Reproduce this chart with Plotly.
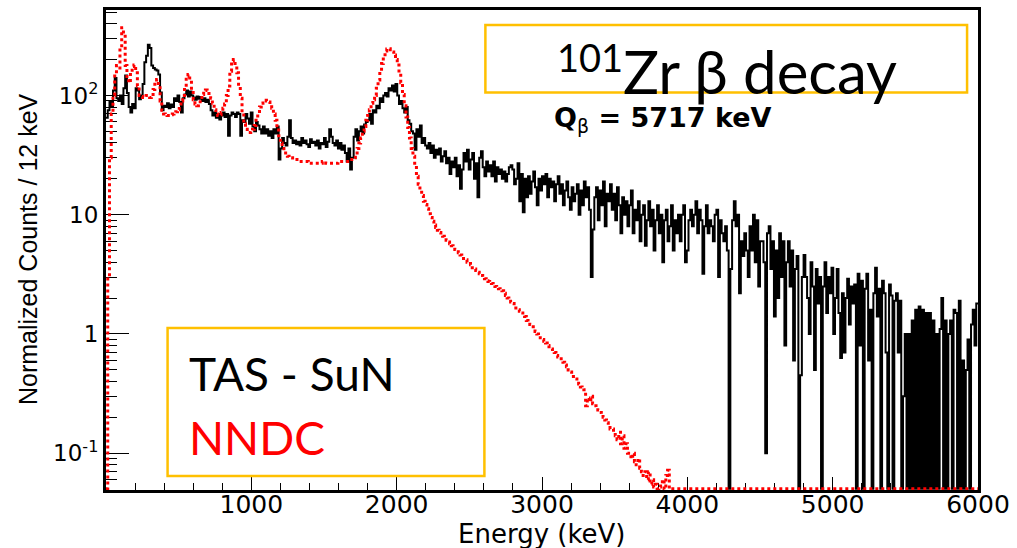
import plotly.graph_objects as go

# ---------------- data (counts per 12 keV bin, 0..6000 keV) ----------------
bin_width_kev = 12
energy_min_kev = 0

tas_sun = [
    65, 75, 90, 80, 110, 140, 95, 90, 100, 85,            # 0-120
    115, 147, 105, 80, 72, 85, 78, 115, 110, 93,          # 120-240
    100, 125, 190, 215, 266, 250, 178, 170, 165, 162,     # 240-360
    150, 106, 75, 82, 80, 86, 78, 84, 80, 95,             # 360-480
    90, 100, 88, 72, 95, 102, 110, 98, 108, 100,          # 480-600
    96, 92, 98, 94, 97, 90, 95, 88, 92, 85,               # 600-720
    75, 68, 72, 65, 70, 63, 68, 72, 66, 70,               # 720-840
    46, 68, 72, 70, 66, 72, 70, 46, 62, 60,               # 840-960
    70, 64, 58, 72, 55, 50, 60, 56, 52, 48,               # 960-1080
    55, 48, 52, 46, 50, 44, 52, 48, 55, 29,               # 1080-1200
    36, 44, 40, 38, 45, 62, 44, 40, 42, 39,               # 1200-1320
    41, 38, 44, 40, 42, 39, 37, 43, 40, 41,               # 1320-1440
    38, 42, 36, 40, 39, 44, 37, 41, 52, 45,               # 1440-1560
    40, 38, 42, 36, 40, 35, 38, 33, 28, 36,               # 1560-1680
    24, 30, 45, 52, 42, 50, 55, 48, 57, 60,               # 1680-1800
    62, 70, 58, 75, 72, 82, 78, 95, 88, 100,              # 1800-1920
    105, 98, 115, 110, 121, 108, 125, 100, 85, 90,        # 1920-2040
    78, 72, 80, 62, 58, 50, 48, 35, 52, 45,               # 2040-2160
    56, 40, 44, 38, 36, 40, 33, 38, 30, 35,               # 2160-2280
    32, 36, 28, 31, 34, 27, 30, 22, 28, 25,               # 2280-2400
    30, 21, 26, 16.5, 24, 33, 28, 35, 24, 29,             # 2400-2520
    33, 20, 27, 14, 30, 34, 25, 21, 28, 23,               # 2520-2640
    26, 21, 28, 19, 25, 22, 24, 20, 23, 19,               # 2640-2760
    22, 25, 26, 24, 18, 20, 27, 13, 22, 10.5,             # 2760-2880
    20, 14, 21, 15, 19, 23, 17, 12, 20, 16,               # 2880-3000
    21, 18, 22, 14, 20, 17, 19, 13, 18, 21,               # 3000-3120
    15, 18, 12, 16, 19, 14, 11, 17, 13, 15,               # 3120-3240
    18, 10, 16, 12, 19, 14, 17, 11, 3.0, 7.5,             # 3240-3360
    14, 17, 9, 16, 12, 19, 8, 15, 13, 18,                 # 3360-3480
    11, 15, 9, 17, 12, 7, 14, 10, 13, 8,                  # 3480-3600
    12, 16, 7, 11, 9, 13, 6, 10, 12, 5.5,                 # 3600-3720
    9, 13, 8, 11, 5, 9, 12, 7, 10, 4,                     # 3720-3840
    9, 11, 6, 8, 12, 5, 9, 7, 10, 6,                      # 3840-3960
    10, 12, 4, 5, 9, 11, 8, 10, 13, 7,                    # 3960-4080
    11, 9, 3.2, 8, 12, 7, 9, 8, 6, 10,                    # 4080-4200
    11, 3.0, 9, 7, 6, 8, 5, 0, 3.5, 9,                    # 4200-4320
    13, 8, 10, 2.2, 6, 4.5, 7, 5, 3.0, 8,                 # 4320-4440
    5, 10, 4, 9, 2.5, 6, 6, 4, 0.1, 7,                    # 4440-4560
    8, 3.5, 6, 1.4, 5, 2.0, 7, 3, 6, 0.8,                 # 4560-4680
    4, 6, 2.5, 5, 0.6, 3.5, 4.5, 0, 0.45, 3,              # 4680-4800
    4.6, 3, 2, 1.0, 4, 2.5, 0.5, 3.5, 1.8, 3,             # 4800-4920
    0, 2.5, 4, 1.5, 3, 2.2, 3.6, 1.0, 2, 3.5,             # 4920-5040
    1.5, 0.63, 2.2, 0.7, 2.0, 2.9, 1.2, 2.5, 1.8, 2.6,    # 5040-5160
    0, 3.2, 0.8, 2.8, 0, 2.4, 3.2, 0.6, 1.6, 0,           # 5160-5280
    2.2, 3.6, 1.4, 2.4, 0, 2.8, 2.2, 0.7, 0, 2.6,         # 5280-5400
    2.1, 0, 1.9, 2.2, 0.7, 1.9, 0, 0.3, 1.0, 0,           # 5400-5520
    1.0, 0, 1.3, 0, 1.6, 0, 1.7, 0, 1.6, 0,               # 5520-5640
    1.5, 0, 1.5, 0, 1.3, 0, 1.0, 0, 1.1, 2.0,             # 5640-5760
    0, 1.3, 0, 1.0, 1.3, 0, 1.6, 1.5, 0, 1.9,             # 5760-5880
    0, 0.6, 0, 0.5, 0.9, 0, 1.2, 1.6, 0.8, 1.8,           # 5880-6000
]

nndc = [
    0, 3, 30, 70, 100, 150, 178, 170, 250, 370,                   # 0-120
    330, 178, 140, 128, 150, 175, 180, 155, 120, 100,             # 120-240
    98, 96, 97, 100, 98, 96, 99, 112, 130, 136,                   # 240-360
    120, 90, 75, 70, 69, 68, 68, 69, 70, 71,                      # 360-480
    73, 76, 82, 90, 100, 118, 145, 150, 135, 110,                 # 480-600
    92, 85, 82, 84, 92, 102, 108, 111, 110, 104,                  # 600-720
    95, 86, 76, 70, 68, 69, 72, 78, 85, 100,                      # 720-840
    120, 160, 195, 200, 185, 155, 120, 95, 72, 58,                # 840-960
    52, 49, 49, 50, 52, 56, 62, 70, 80, 86,                       # 960-1080
    89, 91, 90, 88, 84, 78, 70, 62, 54, 46,                       # 1080-1200
    40, 36, 34, 32, 31, 30, 30, 29, 29, 29,                       # 1200-1320
    29, 28, 28, 28, 28, 28, 27, 27, 27, 27,                       # 1320-1440
    27, 27, 27, 27, 28, 28, 27, 27, 27, 27,                       # 1440-1560
    27, 27, 27, 28, 28, 28, 28, 28, 28, 28,                       # 1560-1680
    29, 29, 30, 33, 36, 40, 44, 50, 55, 62,                       # 1680-1800
    68, 76, 86, 92, 100, 115, 135, 160, 185, 210,                 # 1800-1920
    236, 245, 246, 242, 232, 218, 200, 180, 155, 128,             # 1920-2040
    102, 82, 66, 54, 44, 36, 31, 26, 21, 18,                      # 2040-2160
    16, 14.5, 13, 12.2, 11.2, 10.2, 9.5, 8.8, 8.2, 7.8,           # 2160-2280
    7.4, 7.1, 6.8, 6.6, 6.4, 6.1, 5.9, 5.7, 5.5, 5.3,             # 2280-2400
    5.1, 4.9, 4.8, 4.6, 4.5, 4.3, 4.2, 4.0, 3.9, 3.8,             # 2400-2520
    3.6, 3.5, 3.4, 3.3, 3.2, 3.1, 3.0, 2.9, 2.8, 2.75,            # 2520-2640
    2.7, 2.65, 2.6, 2.5, 2.45, 2.4, 2.35, 2.3, 2.2, 2.1,          # 2640-2760
    2.0, 1.95, 1.85, 1.8, 1.7, 1.65, 1.6, 1.55, 1.5, 1.45,        # 2760-2880
    1.4, 1.3, 1.25, 1.2, 1.15, 1.1, 1.05, 1.0, 0.97, 0.93,        # 2880-3000
    0.9, 0.87, 0.84, 0.8, 0.78, 0.75, 0.72, 0.7, 0.66, 0.64,      # 3000-3120
    0.62, 0.6, 0.58, 0.55, 0.53, 0.5, 0.48, 0.46, 0.44, 0.42,     # 3120-3240
    0.40, 0.38, 0.36, 0.35, 0.34, 0.25, 0.29, 0.27, 0.3, 0.26,    # 3240-3360
    0.25, 0.24, 0.23, 0.22, 0.21, 0.2, 0.19, 0.18, 0.17, 0.16,    # 3360-3480
    0.16, 0.15, 0.14, 0.13, 0.15, 0.12, 0.14, 0.11, 0.12, 0.1,    # 3480-3600
    0.1, 0.09, 0.1, 0.085, 0.08, 0.09, 0.075, 0.07, 0.065, 0.07,  # 3600-3720
    0.06, 0.07, 0.055, 0.06, 0.052, 0.055, 0, 0.052, 0.055, 0.06, # 3720-3840
    0.05, 0.065, 0.072, 0.05, 0, 0, 0, 0, 0, 0,                  # 3840-3960
] + [0] * 170                                                     # 3960-6000 empty

x_tick_values = [1000, 2000, 3000, 4000, 5000, 6000]
x_tick_labels = ["1000", "2000", "3000", "4000", "5000", "6000"]
y_tick_values = [0.1, 1, 10, 100]
y_tick_labels = ["10<sup>-1</sup>", "1", "10", "10<sup>2</sup>"]

# ---------------- layout geometry ----------------
W, H = 1017, 548
L, R, T, B = 106, 984, 7, 490
Y_LOG_RANGE = [-1.3083, 2.7167]
X_RANGE = [0, 6000]
FLOOR = 10 ** (Y_LOG_RANGE[0] + 0.01)   # empty bins drawn along the bottom frame


def px(x):
    return (x - L) / (R - L)


def py(y):
    return (B - y) / (B - T)


def step_xy(values):
    n = len(values)
    edges = [energy_min_kev + i * bin_width_kev for i in range(n + 1)]
    ys = [v if v > 0 else FLOOR for v in values]
    return edges, ys + [ys[-1]]


fig = go.Figure()

xb, yb = step_xy(tas_sun)
fig.add_trace(go.Scatter(x=xb, y=yb, mode="lines", line_shape="hv",
                         line=dict(color="black", width=2), name="TAS - SuN",
                         showlegend=False))
xr, yr = step_xy(nndc)
fig.add_trace(go.Scatter(x=xr, y=yr, mode="lines", line_shape="hv",
                         line=dict(color="#ff0000", width=3, dash="3px,3px"),
                         name="NNDC", showlegend=False))

minor_y = []
for d in [0.01, 0.1, 1, 10, 100]:
    for k in range(2, 10):
        minor_y.append(k * d)

fig.update_layout(
    width=W, height=H,
    margin=dict(l=L, r=W - R, t=T, b=H - B, pad=0),
    paper_bgcolor="white", plot_bgcolor="white",
    xaxis=dict(
        range=X_RANGE, showgrid=False, zeroline=False,
        showline=True, linecolor="black", linewidth=3, mirror=True,
        ticks="inside", ticklen=13, tickwidth=1, tickcolor="black",
        tickvals=x_tick_values, ticktext=x_tick_labels,
        tickfont=dict(family="DejaVu Sans", size=25, color="black"),
        ticklabelstandoff=-10,
        minor=dict(ticks="inside", ticklen=7, tickwidth=1, tickcolor="black",
                   dtick=200, tick0=0, showgrid=False),
        layer="below traces",
    ),
    yaxis=dict(
        type="log", range=Y_LOG_RANGE, showgrid=False, zeroline=False,
        showline=True, linecolor="black", linewidth=3, mirror=True,
        ticks="inside", ticklen=23, tickwidth=1, tickcolor="black",
        tickvals=y_tick_values, ticktext=y_tick_labels,
        tickfont=dict(family="DejaVu Sans", size=23, color="black"),
        minor=dict(ticks="inside", ticklen=11, tickwidth=1, tickcolor="black",
                   tickvals=minor_y, showgrid=False),
        layer="below traces",
    ),
    shapes=[
        dict(type="rect", xref="paper", yref="paper",
             x0=px(488), x1=px(973), y0=py(90), y1=py(22),
             line=dict(color="#FFC000", width=2.5), fillcolor="rgba(0,0,0,0)"),
        dict(type="rect", xref="paper", yref="paper",
             x0=px(168), x1=px(487), y0=py(476), y1=py(327),
             line=dict(color="#FFC000", width=2.5), fillcolor="rgba(0,0,0,0)"),
    ],
    annotations=[
        dict(text="Energy (keV)", xref="paper", yref="paper",
             x=px(545), y=py(534), xanchor="center", yanchor="middle",
             showarrow=False, font=dict(family="DejaVu Sans", size=26, color="black")),
        dict(text="Normalized Counts / 12 keV", xref="paper", yref="paper",
             x=px(27), y=py(248), xanchor="center", yanchor="middle", textangle=-90,
             showarrow=False, font=dict(family="Liberation Sans", size=25, color="black")),
        dict(text="101", xref="paper", yref="paper",
             x=px(558), y=py(54), xanchor="left", yanchor="middle",
             showarrow=False, font=dict(family="Lato", size=38, color="black")),
        dict(text="Zr β decay", xref="paper", yref="paper",
             x=px(625), y=py(68), xanchor="left", yanchor="middle",
             showarrow=False, font=dict(family="Lato", size=60, color="black")),
        dict(text="<b>Q</b><sub>β</sub><b> = 5717 keV</b>", xref="paper", yref="paper",
             x=px(555), y=py(117), xanchor="left", yanchor="middle",
             showarrow=False, font=dict(family="DejaVu Sans", size=27, color="black")),
        dict(text="TAS - SuN", xref="paper", yref="paper",
             x=px(188), y=py(373), xanchor="left", yanchor="middle",
             showarrow=False, font=dict(family="Lato", size=46, color="black")),
        dict(text="NNDC", xref="paper", yref="paper",
             x=px(188), y=py(437), xanchor="left", yanchor="middle",
             showarrow=False, font=dict(family="Lato", size=46, color="#ff0000")),
    ],
)

fig.write_html("out.html")
